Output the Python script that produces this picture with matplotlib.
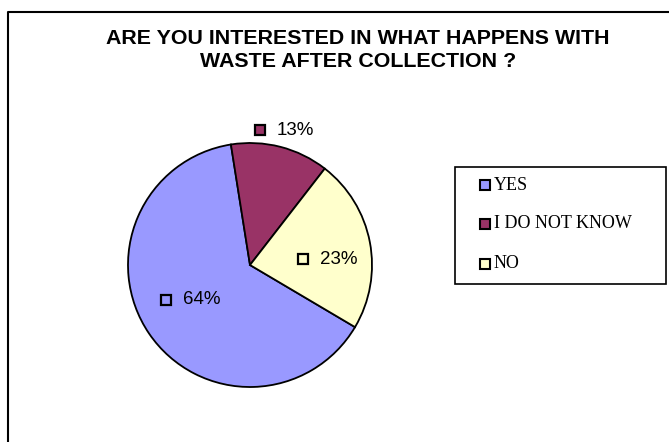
import matplotlib
matplotlib.use("Agg")
import matplotlib.pyplot as plt
from matplotlib.lines import Line2D
from matplotlib.patches import Rectangle
from matplotlib.transforms import offset_copy
import numpy as np

W, H = 669, 442

title = "ARE YOU INTERESTED IN WHAT HAPPENS WITH\nWASTE AFTER COLLECTION ?"
categories = ["YES", "I DO NOT KNOW", "NO"]
shares = [64, 13, 23]
colors = ["#9999FF", "#993366", "#FFFFCC"]
label_dist = [0.58, 1.14, 0.65]
label_nudge = [5, 0, -9]   # vertical pixel nudge per data label


def fx(x):
    return x / W


def fy(y):
    # pixel rows counted from the top
    return 1 - y / H


fig = plt.figure(figsize=(W / 100, H / 100), dpi=100)
fig.patch.set_facecolor("white")

# chart area border (runs off the right and bottom edges)
fig.add_artist(Line2D([fx(8), fx(8), 1.01], [-0.01, fy(12), fy(12)],
                      transform=fig.transFigure, color="black", lw=1.5))

fig.text(fx(358), fy(50), title, ha="center", va="center",
         fontsize=15.4, fontweight="bold", family="Liberation Sans",
         linespacing=1.28)

# pie
cx, cy, r = 250, 265, 122
ax = fig.add_axes([fx(cx - r), fy(cy + r), (2 * r) / W, (2 * r) / H])
wedges, _ = ax.pie(shares, colors=colors, startangle=-30.6, counterclock=False,
                   radius=1.0,
                   wedgeprops=dict(edgecolor="black", linewidth=1.3))
ax.set_xlim(-1, 1)
ax.set_ylim(-1, 1)
ax.set_aspect("auto")
ax.axis("off")

for w, val, col, d, dy in zip(wedges, shares, colors, label_dist, label_nudge):
    ang = np.deg2rad((w.theta1 + w.theta2) / 2)
    x, y = d * np.cos(ang), d * np.sin(ang)
    mk = offset_copy(ax.transData, fig=fig, x=-25, y=dy, units="dots")
    ax.plot([x], [y], marker="s", ms=7.2, mfc=col, mec="black", mew=1.6,
            transform=mk, zorder=5, clip_on=False)
    tx = offset_copy(ax.transData, fig=fig, x=-8, y=dy, units="dots")
    ax.text(x, y, f"{val}%", transform=tx, ha="left", va="center",
            fontsize=13.5, family="Liberation Sans", zorder=5)

# legend box
fig.add_artist(Rectangle((fx(455), fy(284)), fx(666 - 455), (284 - 167) / H,
                         transform=fig.transFigure, fill=False,
                         edgecolor="black", lw=1.2))
rows = [185, 224, 264]
for name, col, ry in zip(categories, colors, rows):
    fig.add_artist(Rectangle((fx(480), fy(ry + 5)), fx(10), 10 / H,
                             transform=fig.transFigure, facecolor=col,
                             edgecolor="black", lw=1.5))
    fig.text(fx(494), fy(ry), name, ha="left", va="center",
             fontsize=13, family="Liberation Serif")

fig.savefig("out.png", dpi=100)
